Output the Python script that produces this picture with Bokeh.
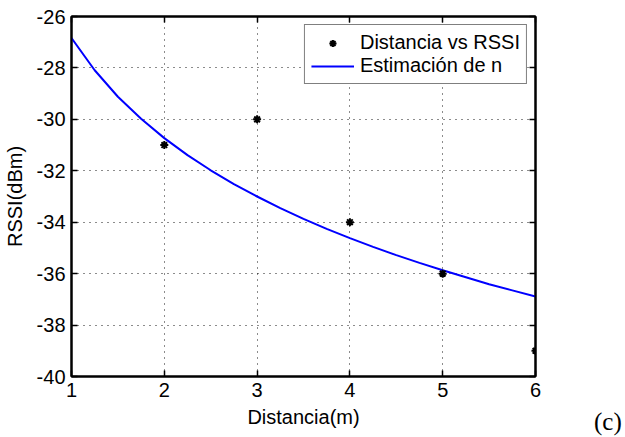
from bokeh.plotting import figure
from bokeh.models import (ColumnDataSource, Legend, LegendItem, LinearAxis,
                          FixedTicker, Range1d, Div)
from bokeh.layouts import row
from bokeh.embed import file_html
from bokeh.resources import INLINE

# Measured RSSI at each distance
distancia = [2, 3, 4, 5, 6]
rssi = [-31, -30, -34, -36, -39]

# Path-loss fit ("Estimación de n") sampled along the distance range
fit_d = [1.0, 1.25, 1.5, 1.75, 2.0, 2.25, 2.5, 2.75, 3.0, 3.25, 3.5,
         3.75, 4.0, 4.25, 4.5, 4.75, 5.0, 5.25, 5.5, 5.75, 6.0]
fit_rssi = [-26.84, -28.09, -29.12, -29.98, -30.73, -31.39, -31.98, -32.52,
            -33.00, -33.45, -33.87, -34.26, -34.62, -34.96, -35.28, -35.58,
            -35.87, -36.14, -36.41, -36.65, -36.89]

x_ticks = [1, 2, 3, 4, 5, 6]
y_ticks = [-40, -38, -36, -34, -32, -30, -28, -26]

FONT = "Liberation Sans"
FS = "20px"

p = figure(frame_width=464, frame_height=360,
           min_border_left=69, min_border_right=56,
           min_border_top=16, min_border_bottom=61,
           x_range=Range1d(1, 6), y_range=Range1d(-40, -26),
           output_backend="svg", toolbar_location=None,
           background_fill_color="white", border_fill_color="white")

p.outline_line_color = "black"
p.outline_line_width = 2
p.outline_line_alpha = 1

# dotted grid
for g in (p.xgrid, p.ygrid):
    g.grid_line_color = "black"
    g.grid_line_dash = "1 5"
    g.grid_line_width = 1
    g.grid_line_alpha = 0.9
p.xgrid.ticker = FixedTicker(ticks=x_ticks)
p.ygrid.ticker = FixedTicker(ticks=y_ticks)


def style_axis(ax, ticks, show_labels=True):
    ax.ticker = FixedTicker(ticks=ticks)
    ax.axis_line_color = "black"
    ax.axis_line_width = 2
    ax.major_tick_in = 6
    ax.major_tick_out = 0
    ax.major_tick_line_color = "black"
    ax.major_tick_line_width = 1.5
    ax.minor_tick_line_color = None
    if show_labels:
        ax.major_label_overrides = {t: str(t) for t in ticks}
        ax.major_label_text_font = FONT
        ax.major_label_text_font_size = FS
        ax.major_label_text_color = "black"
        ax.major_label_standoff = 6
        ax.axis_label_text_font = FONT
        ax.axis_label_text_font_size = FS
        ax.axis_label_text_font_style = "normal"
        ax.axis_label_text_color = "black"
    else:
        # tick marks only on the mirrored sides
        ax.major_label_text_color = None
        ax.major_label_text_font_size = "1px"
        ax.major_label_standoff = 0


style_axis(p.xaxis[0], x_ticks)
style_axis(p.yaxis[0], y_ticks)
p.xaxis[0].axis_label = "Distancia(m)"
p.xaxis[0].axis_label_standoff = 6
p.yaxis[0].axis_label = "RSSI(dBm)"
p.yaxis[0].axis_label_standoff = 8

top_ax = LinearAxis()
style_axis(top_ax, x_ticks, show_labels=False)
p.add_layout(top_ax, "above")
right_ax = LinearAxis()
style_axis(right_ax, y_ticks, show_labels=False)
p.add_layout(right_ax, "right")

pts = ColumnDataSource(dict(x=distancia, y=rssi))
fit = ColumnDataSource(dict(x=fit_d, y=fit_rssi))

r_fit = p.line("x", "y", source=fit, line_color="#0000ff", line_width=2)
r_pts = p.scatter("x", "y", source=pts, marker="asterisk", size=8,
                  line_color="black", line_width=2)

legend = Legend(items=[LegendItem(label="Distancia vs RSSI", renderers=[r_pts]),
                       LegendItem(label="Estimación de n", renderers=[r_fit])],
                location="top_right")
legend.margin = 8
legend.padding = 6
legend.spacing = 0
legend.glyph_width = 43
legend.glyph_height = 18
legend.label_height = 18
legend.label_standoff = 6
legend.label_text_font = FONT
legend.label_text_font_size = FS
legend.label_text_color = "black"
legend.border_line_color = "black"
legend.border_line_width = 1.5
legend.background_fill_color = "white"
legend.background_fill_alpha = 1
p.add_layout(legend, "center")

# panel tag "(c)" in a narrow column at the right, near the bottom edge
tag = Div(text=("<div style=\"position:absolute; top:409px; left:3px; "
                "font-family:'Liberation Serif'; font-size:25px; "
                "line-height:1; color:black;\">(c)</div>"),
          width=36, height=437, margin=0)

layout = row(p, tag, spacing=0, margin=0)

open("out.html", "w").write(file_html(layout, INLINE))
